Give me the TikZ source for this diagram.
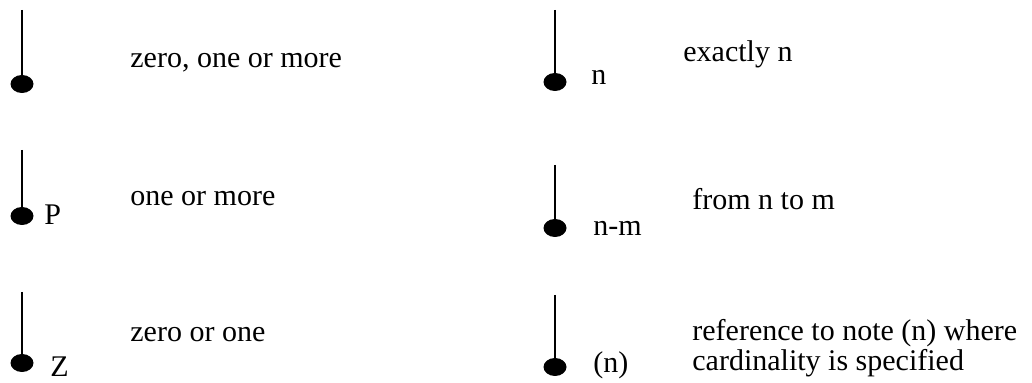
\documentclass[tikz,border=0pt]{standalone}
\usepackage{fontspec}
\setmainfont{Liberation Serif}
\usetikzlibrary{shapes.geometric,positioning}

\begin{document}
\begin{tikzpicture}[x=0.5pt, y=-0.5pt,
    every node/.style={inner sep=0pt, font=\fontsize{15}{15}\selectfont},
    dot/.style={ellipse, fill=black, minimum width=11.5pt, minimum height=9pt},
    stem/.style={line width=1pt},
    card/.style={anchor=base west},
    desc/.style={anchor=base west, align=left}]
    \useasboundingbox (0,0) rectangle (1032,383);

    % cardinality symbols: name / x / top of stem / dot
    \foreach \nm/\x/\yt/\yd in {zom/22/10/84, oom/22/150/216, zoo/22/292/363,
                                ex/555/10/82, nm/555/165/228, rf/555/295/367}{
      \coordinate (\nm top) at (\x,\yt);
      \node[dot] (\nm) at (\x,\yd) {};
      \draw[stem] (\nm top) -- (\nm);
    }

    % left column
    \node[card] (oomlab) at (44,225) {P};
    \node[card] (zoolab) at (50,377) {Z};
    \node[desc] (zomtxt) at (130,68) {zero, one or more};
    \node[desc] (oomtxt) at (130,206) {one or more};
    \node[desc] (zootxt) at (130,342) {zero or one};

    % right column
    \node[card] (exlab) at (591,85) {n};
    \node[card] (nmlab) at (593,236) {n-m};
    \node[card] (rflab) at (593,373) {(n)};
    \node[desc] (extxt) at (683,62) {exactly n};
    \node[desc] (nmtxt) at (692,210) {from n to m};
    \node[desc] (rftxt) at (692,371) {reference to note (n) where\\cardinality is specified};
\end{tikzpicture}
\end{document}
